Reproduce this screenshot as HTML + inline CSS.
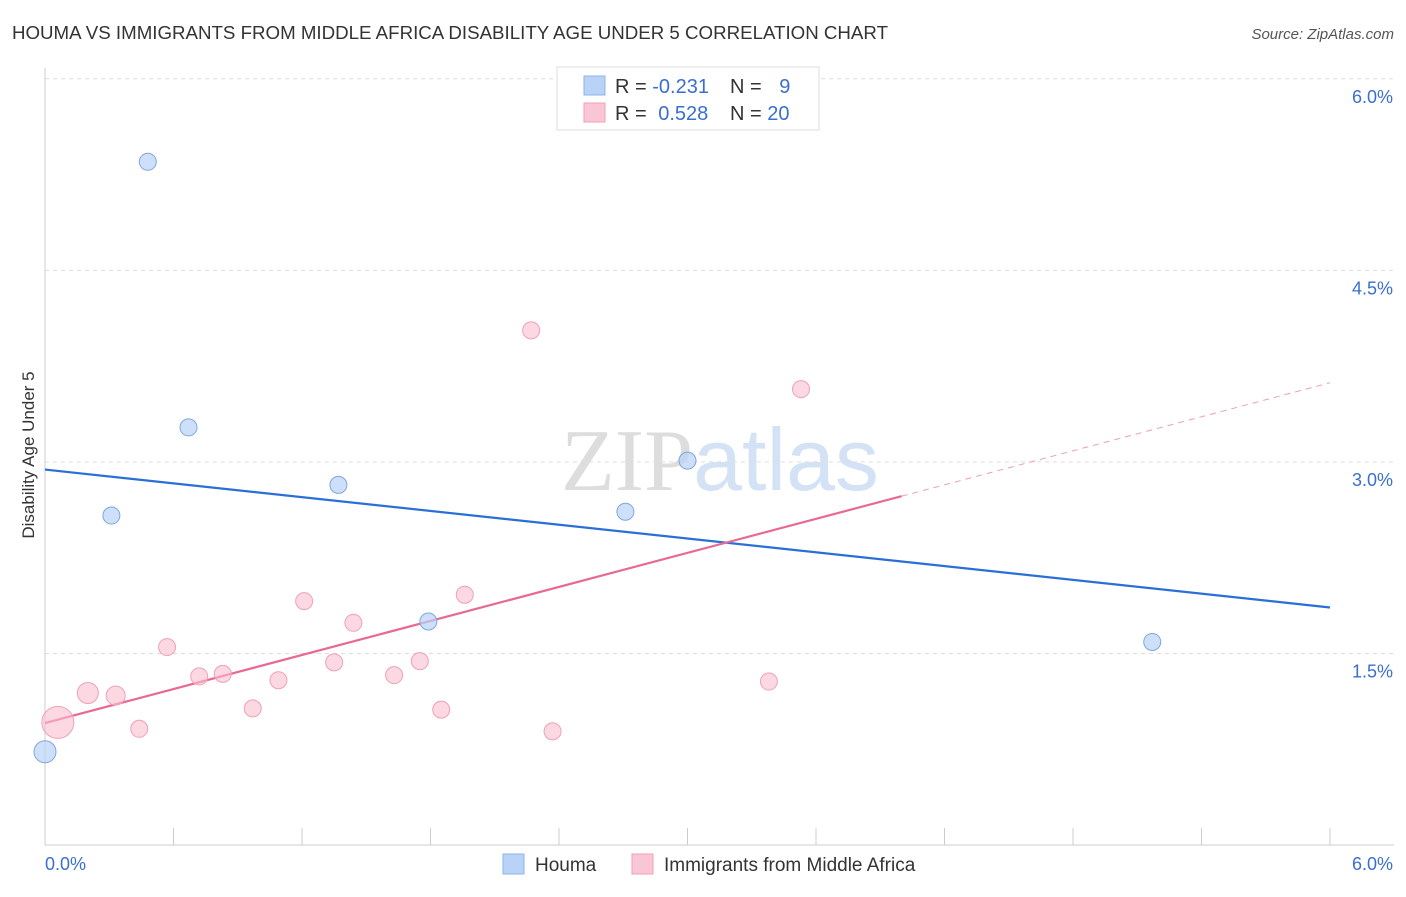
<!DOCTYPE html>
<html><head><meta charset="utf-8"><style>
body{margin:0;background:#fff;font-family:"Liberation Sans",sans-serif;}
svg text{font-family:"Liberation Sans",sans-serif;}
</style></head><body>
<svg id="chart" width="1406" height="892" xmlns="http://www.w3.org/2000/svg">
<text x="12" y="39" font-size="18" fill="#333" textLength="876" lengthAdjust="spacingAndGlyphs">HOUMA VS IMMIGRANTS FROM MIDDLE AFRICA DISABILITY AGE UNDER 5 CORRELATION CHART</text>
<text x="1394" y="39" font-size="15" fill="#555" text-anchor="end" font-style="italic">Source: ZipAtlas.com</text>
<text x="720" y="490" font-size="88" text-anchor="middle"><tspan fill="#ddd" font-family="Liberation Serif">ZIP</tspan><tspan fill="#d4e2f5">atlas</tspan></text>
<g id="grid"></g>
<g id="axes"></g>
<text transform="translate(34,455) rotate(-90)" font-size="17" fill="#333" text-anchor="middle">Disability Age Under 5</text>
<g id="lines"></g>
<g id="points"></g>
<g>
<rect x="557" y="67" width="262" height="63" fill="#fff" stroke="#ddd"/>
<rect x="584" y="76" width="21" height="19" fill="#b9d3f7" stroke="#8db4ea"/>
<rect x="584" y="103" width="21" height="19" fill="#fac6d5" stroke="#f0a0b8"/>
<text x="615" y="93" font-size="20" fill="#333">R = <tspan fill="#3a6fd0">-0.231</tspan></text>
<text x="730" y="93" font-size="20" fill="#333">N = <tspan fill="#3a6fd0" dx="12">9</tspan></text>
<text x="615" y="120" font-size="20" fill="#333">R = <tspan fill="#3a6fd0" dx="6">0.528</tspan></text>
<text x="730" y="120" font-size="20" fill="#333">N = <tspan fill="#3a6fd0">20</tspan></text>
</g>
<g>
<rect x="503" y="854" width="21" height="20" fill="#b9d3f7" stroke="#8db4ea"/>
<text x="535" y="871" font-size="19" fill="#333">Houma</text>
<rect x="632" y="854" width="21" height="20" fill="#fac6d5" stroke="#f0a0b8"/>
<text x="664" y="871" font-size="19" fill="#333">Immigrants from Middle Africa</text>
</g>
</svg>
<script>
const yTicks=[1.5,3.0,4.5,6.0];
const yTickLabels=["1.5%","3.0%","4.5%","6.0%"];
const xLabels=["0.0%","6.0%"];
const houmaX=[0.48,0.67,0.31,1.37,1.79,2.71,3.00,5.17,0.0];
const houmaY=[5.35,3.27,2.58,2.82,1.75,2.61,3.01,1.59,0.73];
const houmaR=[8.5,8.5,8.5,8.5,8.5,8.5,8.5,8.5,11];
const immX=[0.06,0.20,0.33,0.44,0.57,0.72,0.83,0.97,1.09,1.21,1.35,1.44,1.63,1.75,1.85,1.96,2.27,2.37,3.38,3.53];
const immY=[0.96,1.19,1.17,0.91,1.55,1.32,1.34,1.07,1.29,1.91,1.43,1.74,1.33,1.44,1.06,1.96,4.03,0.89,1.28,3.57];
const immR=[16,10.5,9.5,8.5,8.5,8.5,8.5,8.5,8.5,8.5,8.5,8.5,8.5,8.5,8.5,8.5,8.5,8.5,8.5,8.5];
const houmaTrend=[2.94,1.86];
const immTrend=[0.955,3.62];
const immSolidEnd=4.0;
const NS="http://www.w3.org/2000/svg";
const X=v=>45+v*(1285/6), Y=v=>845-v*127.7;
function mk(tag,attrs,parent){const e=document.createElementNS(NS,tag);for(const k in attrs)e.setAttribute(k,attrs[k]);document.getElementById(parent).appendChild(e);return e;}
yTicks.forEach((t,i)=>{
 const l=mk('line',{x1:45,x2:1394,y1:Y(t),y2:Y(t),stroke:'#ddd','stroke-dasharray':'4,4'},'grid');
 
 
 const tx=mk('text',{x:1393,y:Y(t)+24,'font-size':18,fill:'#3a6fd0','text-anchor':'end'},'grid');
 tx.textContent=yTickLabels[i];
 
 
});
mk('line',{x1:45,x2:45,y1:68,y2:845,stroke:'#ccc'},'axes');
mk('line',{x1:45,x2:1394,y1:845,y2:845,stroke:'#ccc'},'axes');
for(let i=0;i<=10;i++){const t=mk('line',{x1:X(i*0.6),x2:X(i*0.6),y1:828,y2:845,stroke:'#ccc'},'axes');
 
 }
[[0,'start',45],[6,'end',1393]].forEach(([v,a,x],i)=>{const t=mk('text',{x:x,y:870,'font-size':18,fill:'#3a6fd0','text-anchor':a},'axes');t.textContent=xLabels[i];
 
 });
const slope=(immTrend[1]-immTrend[0])/6;
let l1=mk('line',{x1:X(0),y1:Y(houmaTrend[0]),x2:X(6),y2:Y(houmaTrend[1]),stroke:'#2a6fd6','stroke-width':2.2},'lines');


let l2=mk('line',{x1:X(0),y1:Y(immTrend[0]),x2:X(immSolidEnd),y2:Y(immTrend[0]+slope*immSolidEnd),stroke:'#e86a94','stroke-width':2.2},'lines');


let l3=mk('line',{x1:X(immSolidEnd),y1:Y(immTrend[0]+slope*immSolidEnd),x2:X(6),y2:Y(immTrend[1]),stroke:'#e8a0b8','stroke-width':1,'stroke-dasharray':'6,5'},'lines');


immX.forEach((x,i)=>{const c=mk('circle',{cx:X(x),cy:Y(immY[i]),r:immR[i],fill:'rgba(250,190,208,0.6)',stroke:'#f0a0b8','stroke-width':1},'points');
 
 });
houmaX.forEach((x,i)=>{const c=mk('circle',{cx:X(x),cy:Y(houmaY[i]),r:houmaR[i],fill:'rgba(185,211,247,0.7)',stroke:'#7ea6e0','stroke-width':1},'points');
 
 });
</script>
</body></html>
